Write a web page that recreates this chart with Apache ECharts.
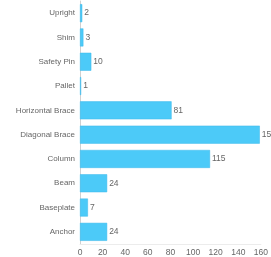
<!DOCTYPE html>
<html><head><meta charset="utf-8">
<script src="https://cdn.jsdelivr.net/npm/echarts@6/dist/echarts.min.js"></script>
<style>html,body{margin:0;padding:0;background:#fff}#c{width:271px;height:257px}</style>
</head><body><div id="c"></div>
<script>
const categories = ["Anchor","Baseplate","Beam","Column","Diagonal Brace","Horizontal Brace","Pallet","Safety Pin","Shim","Upright"];
const values = [24,7,24,115,159,81,1,10,3,2];
const xTicks = [0,20,40,60,80,100,120,140,160];
const chart = echarts.init(document.getElementById('c'), null, {renderer:'canvas'});
chart.setOption({
  animation:false,
  grid:{left:80,right:8,top:1,bottom:11,containLabel:false},
  xAxis:{type:'value',min:0,max:160,interval:20,
    axisLine:{show:true,lineStyle:{color:'#ececec'}},axisTick:{show:false},
    splitLine:{show:false},
    axisLabel:{color:'#666',fontSize:8.5,fontFamily:'Liberation Sans, Arial, sans-serif',margin:4,
      formatter:v=>xTicks.includes(v)?String(v):''}},
  yAxis:{type:'category',data:categories,
    axisLine:{show:true,lineStyle:{color:'#d0d0d0'}},axisTick:{show:false},
    axisLabel:{color:'#666',fontSize:8,fontFamily:'Liberation Sans, Arial, sans-serif',margin:5}},
  series:[{type:'bar',data:values,barCategoryGap:'26%',
    itemStyle:{color:'#4ccaf8',borderColor:'#3db9ea',borderWidth:0.5},
    label:{show:true,position:'right',distance:2,color:'#666',fontSize:8.5,fontFamily:'Liberation Sans, Arial, sans-serif'}}]
});
</script></body></html>
